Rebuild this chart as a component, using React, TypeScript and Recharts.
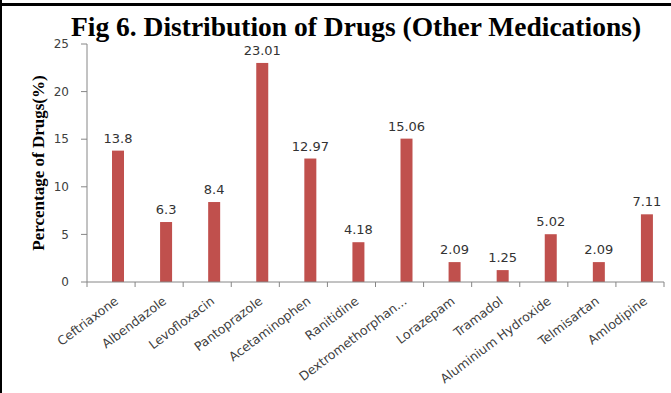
import React from 'react';
import { BarChart, Bar, XAxis, YAxis, LabelList } from 'recharts';

const categories = [
  'Ceftriaxone',
  'Albendazole',
  'Levofloxacin',
  'Pantoprazole',
  'Acetaminophen',
  'Ranitidine',
  'Dextromethorphan...',
  'Lorazepam',
  'Tramadol',
  'Aluminium Hydroxide',
  'Telmisartan',
  'Amlodipine',
];
const percentages = [13.8, 6.3, 8.4, 23.01, 12.97, 4.18, 15.06, 2.09, 1.25, 5.02, 2.09, 7.11];
const yTicks = [0, 5, 10, 15, 20, 25];

const data = categories.map((name, i) => ({ name, value: percentages[i] }));

const BAR_COLOR = '#C0504D';
const AXIS_COLOR = '#868686';
const TEXT_COLOR = '#404040';
const SANS = '"DejaVu Sans", Verdana, sans-serif';
const SERIF = '"Liberation Serif", "Times New Roman", serif';
// bars sit slightly right of the category centre
const BAR_SHIFT = 7;

const ShiftedBar = (props: any) => {
  const { x, y, width, height, fill } = props;
  if (!height || height <= 0) return null;
  return <rect x={x + BAR_SHIFT} y={y} width={width} height={height} fill={fill} />;
};

const ValueLabel = (props: any) => {
  const { x, y, width, value } = props;
  return (
    <text
      x={Number(x) + Number(width) / 2 + BAR_SHIFT}
      y={Number(y) - 8}
      textAnchor="middle"
      fontSize={13}
      fontFamily={SANS}
      fill="#333333"
    >
      {value}
    </text>
  );
};

const CategoryTick = (props: any) => {
  const { x, y, payload, index, visibleTicksCount, width } = props;
  const half =
    payload && payload.offset ? payload.offset : Number(width) / (visibleTicksCount || categories.length) / 2;
  const tx = x + 6;
  const ty = y + 18;
  const last = index === (visibleTicksCount || categories.length) - 1;
  return (
    <g>
      <line x1={x - half} x2={x - half} y1={y} y2={y + 5} stroke={AXIS_COLOR} />
      {last && <line x1={x + half} x2={x + half} y1={y} y2={y + 5} stroke={AXIS_COLOR} />}
      <text
        x={tx}
        y={ty}
        transform={`rotate(-37, ${tx}, ${ty})`}
        textAnchor="end"
        dominantBaseline="middle"
        fontSize={12.5}
        fontFamily={SANS}
        fill={TEXT_COLOR}
      >
        {payload.value}
      </text>
    </g>
  );
};

export default function App() {
  return (
    <div
      style={{
        position: 'fixed',
        left: 0,
        top: 0,
        width: 671,
        height: 393,
        background: '#ffffff',
        overflow: 'hidden',
      }}
    >
      <div style={{ position: 'absolute', left: 0, top: 0, width: 2, height: 393, background: '#000' }} />
      <div style={{ position: 'absolute', left: 0, top: 3, width: 671, height: 3, background: '#000' }} />
      <div
        style={{
          position: 'absolute',
          left: 0,
          width: 712,
          top: 17,
          textAlign: 'center',
          fontFamily: SERIF,
          fontWeight: 'bold',
          fontSize: 27.5,
          lineHeight: '20px',
          color: '#000',
          whiteSpace: 'nowrap',
        }}
      >
        Fig 6. Distribution of Drugs (Other Medications)
      </div>
      <div style={{ position: 'absolute', left: 0, top: 0 }}>
        <BarChart
          width={671}
          height={393}
          data={data}
          margin={{ top: 44, right: 7, bottom: 0, left: 0 }}
          barSize={12}
        >
          <XAxis
            dataKey="name"
            interval={0}
            height={111}
            tickLine={false}
            tickSize={0}
            tickMargin={0}
            axisLine={{ stroke: AXIS_COLOR }}
            tick={<CategoryTick />}
          />
          <YAxis
            domain={[0, 25]}
            ticks={yTicks}
            width={87}
            interval={0}
            tickSize={6}
            tickMargin={12}
            axisLine={{ stroke: AXIS_COLOR }}
            tickLine={{ stroke: AXIS_COLOR }}
            tick={{ fill: TEXT_COLOR, fontSize: 12, fontFamily: SANS }}
            label={{
              content: () => (
                <text
                  x={40}
                  y={163}
                  transform="rotate(-90, 40, 163)"
                  textAnchor="middle"
                  dominantBaseline="middle"
                  fontFamily={SERIF}
                  fontWeight="bold"
                  fontSize={17}
                  fill="#000"
                >
                  Percentage of Drugs(%)
                </text>
              ),
            }}
          />
          <Bar dataKey="value" fill={BAR_COLOR} shape={<ShiftedBar />} isAnimationActive={false}>
            <LabelList dataKey="value" content={<ValueLabel />} />
          </Bar>
        </BarChart>
      </div>
    </div>
  );
}
